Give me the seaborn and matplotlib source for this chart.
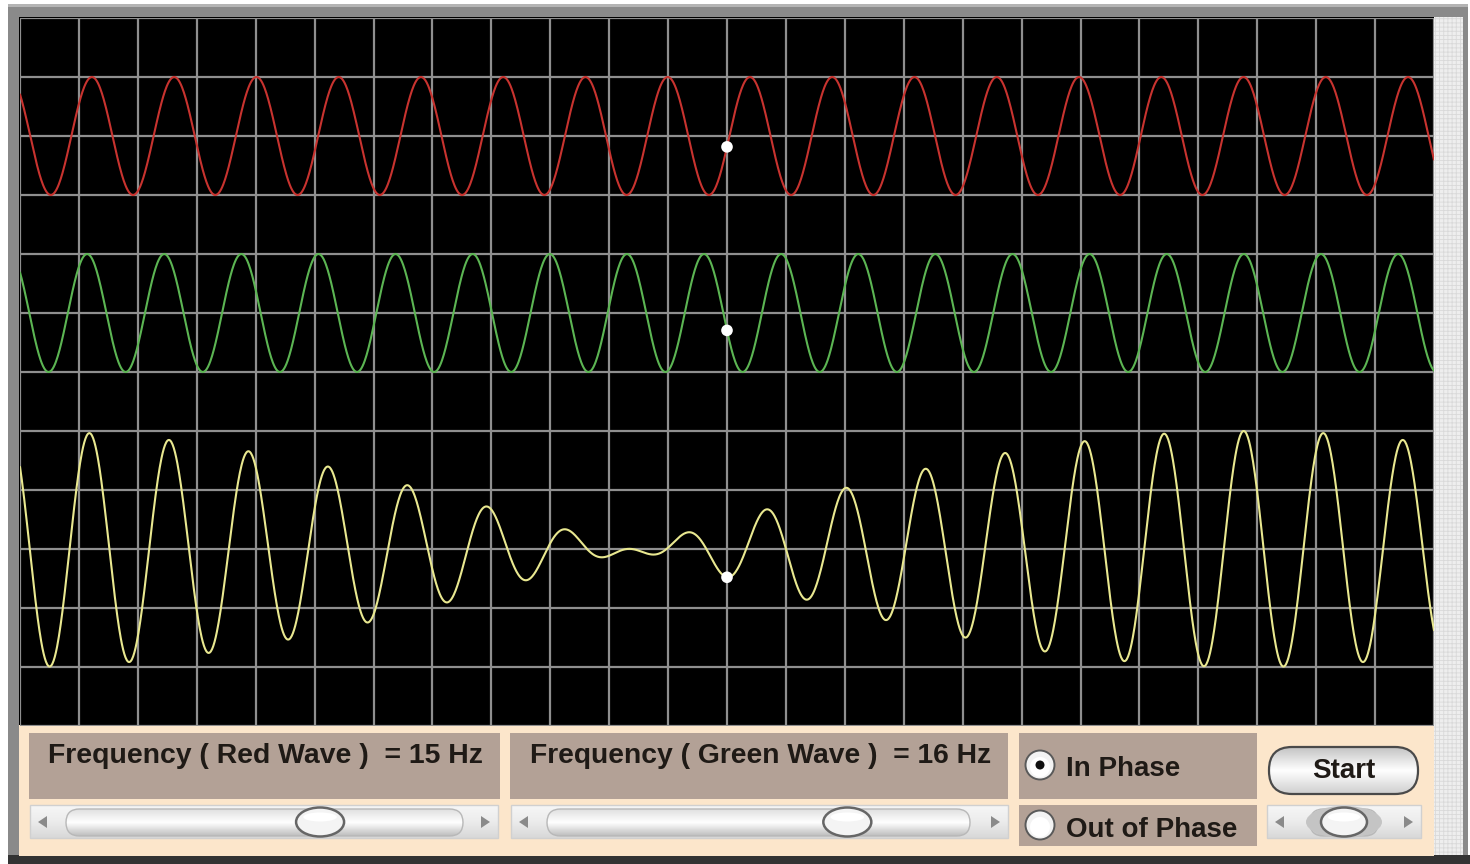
import numpy as np
import pandas as pd
import matplotlib
matplotlib.use("Agg")
import matplotlib.pyplot as plt
import seaborn as sns
from matplotlib.patches import Rectangle, FancyBboxPatch, Ellipse, Circle, Polygon
from matplotlib.colors import LinearSegmentedColormap

# ---------------- values ----------------
red_freq_hz = 15
green_freq_hz = 16
window_s = 1.146                 # time shown across the grid
red_first_crest_s = 0.0583       # first crest of red wave
green_first_crest_s = 0.0544     # first crest of green wave
red_center = 10                  # grid row of each trace's axis (from bottom)
green_center = 7
sum_center = 3
amplitude = 1.0
marker_time_s = 0.573            # white dot position
grid_cols = 24
grid_rows = 12
freq_labels = ["Frequency ( Red Wave )  = 15 Hz", "Frequency ( Green Wave )  = 16 Hz"]
radio_labels = ["In Phase", "Out of Phase"]
radio_selected = [True, False]
button_label = "Start"
slider_fracs = [0.64, 0.71, 0.5]

RED = "#c8332f"
GREEN = "#5cb553"
YELLOW = "#e9e890"

# ---------------- data frame ----------------
t = np.linspace(0, window_s, 2400)
x = t / window_s * grid_cols
red = red_center + amplitude * np.cos(2 * np.pi * red_freq_hz * (t - red_first_crest_s))
green = green_center + amplitude * np.cos(2 * np.pi * green_freq_hz * (t - green_first_crest_s))
total = sum_center + (red - red_center) + (green - green_center)
df = pd.DataFrame({"x": x, "red": red, "green": green, "sum": total})

tm = marker_time_s
mx = tm / window_s * grid_cols
mr = red_center + amplitude * np.cos(2 * np.pi * red_freq_hz * (tm - red_first_crest_s))
mg = green_center + amplitude * np.cos(2 * np.pi * green_freq_hz * (tm - green_first_crest_s))
ms = sum_center + (mr - red_center) + (mg - green_center)
dots = pd.DataFrame({"x": [mx, mx, mx], "y": [mr, mg, ms]})

sns.set_theme(style="dark")
plt.rcParams["font.family"] = ["Liberation Sans", "DejaVu Sans"]
plt.rcParams["hatch.linewidth"] = 0.6

W, H = 1470, 864
fig = plt.figure(figsize=(W / 100, H / 100), dpi=100, facecolor="white")

# ---------------- chrome (pixel coordinates) ----------------
bg = fig.add_axes([0, 0, 1, 1])
bg.set_zorder(0)
bg.axis("off")


def grad(ax, patch, c_top, c_mid, c_bot, x0, y0, w, h, z):
    cmap = LinearSegmentedColormap.from_list("g", [c_top, c_mid, c_bot])
    arr = np.linspace(0, 1, 64).reshape(-1, 1)
    im = ax.imshow(arr, cmap=cmap, extent=(x0, x0 + w, y0 + h, y0), origin="upper",
                   aspect="auto", zorder=z, interpolation="bilinear")
    ax.add_patch(patch)
    im.set_clip_path(patch)


bg.add_patch(Rectangle((8, 4), 1460, 853, fc="#8a8a8a", ec="none", zorder=1))
bg.add_patch(Rectangle((8, 4), 1460, 3, fc="#b4b4b4", ec="none", zorder=1.1))
bg.add_patch(Rectangle((8, 855), 1462, 9, fc="#333333", ec="none", zorder=1.2))
bg.add_patch(Rectangle((1434, 17), 29, 838, fc="#eeeeee", ec="#d9d9d9", lw=0,
                       hatch="++++", zorder=2))
bg.add_patch(Rectangle((19, 17), 1415, 709, fc="black", ec="none", zorder=2))
bg.add_patch(Rectangle((19, 725), 1415, 131, fc="#fce6cb", ec="none", zorder=2))

BOX = "#b3a196"
TXT = "#1f1a16"
bg.add_patch(Rectangle((29, 733), 471, 66, fc=BOX, ec="none", zorder=3))
bg.add_patch(Rectangle((510, 733), 498, 66, fc=BOX, ec="none", zorder=3))
bg.add_patch(Rectangle((1019, 733), 238, 66, fc=BOX, ec="none", zorder=3))
bg.add_patch(Rectangle((1019, 805), 238, 41, fc=BOX, ec="none", zorder=3))

bg.text(48, 763, freq_labels[0], fontsize=20.4, fontweight="bold", color=TXT,
        ha="left", va="baseline", zorder=5)
bg.text(530, 763, freq_labels[1], fontsize=20.3, fontweight="bold", color=TXT,
        ha="left", va="baseline", zorder=5)

# radio buttons
for (ry, lab, sel, base) in [(765, radio_labels[0], radio_selected[0], 776),
                             (825, radio_labels[1], radio_selected[1], 837)]:
    bg.add_patch(Circle((1040, ry), 14.5, fc="#f3f3f3", ec="#5a5a5a", lw=1.4, zorder=5))
    bg.add_patch(Circle((1040, ry + 2), 10, fc="white", ec="none", zorder=5.1))
    if sel:
        bg.add_patch(Circle((1040, ry), 4.5, fc="#111111", ec="none", zorder=5.2))
    bg.text(1066, base, lab, fontsize=20, fontweight="bold", color=TXT,
            ha="left", va="baseline", zorder=5)

# start button
btn = FancyBboxPatch((1269, 747), 149, 47, boxstyle="round,pad=0,rounding_size=23",
                     fc="none", ec="#4a4a4a", lw=1.6, zorder=6)
grad(bg, FancyBboxPatch((1269, 747), 149, 47, boxstyle="round,pad=0,rounding_size=23",
                        fc="none", ec="none", zorder=5),
     "#c4c4c4", "#ffffff", "#cfcfcf", 1269, 747, 149, 47, 5)
bg.add_patch(btn)
bg.text(1344, 778, button_label, fontsize=20, fontweight="bold", color=TXT,
        ha="center", va="baseline", zorder=7)


def slider(x0, x1, track0, track1, frac, thumb_w, halo=False):
    y0, h = 805, 33
    grad(bg, Rectangle((x0, y0), x1 - x0, h, fc="none", ec="none", zorder=4),
         "#f6f6f6", "#ececec", "#d8d8d8", x0, y0, x1 - x0, h, 4)
    bg.add_patch(Rectangle((x0, y0), x1 - x0, h, fc="none", ec="#d0d0d0", lw=1, zorder=4.5))
    tr = FancyBboxPatch((track0, 809), track1 - track0, 27,
                        boxstyle="round,pad=0,rounding_size=13.5", fc="none", ec="none", zorder=4.6)
    grad(bg, tr, "#e0e0e0", "#ffffff", "#bdbdbd", track0, 809, track1 - track0, 27, 4.6)
    bg.add_patch(FancyBboxPatch((track0, 809), track1 - track0, 27,
                                boxstyle="round,pad=0,rounding_size=13.5",
                                fc="none", ec="#b8b8b8", lw=1.0, zorder=4.7))
    tx = track0 + frac * (track1 - track0)
    if halo:
        bg.add_patch(Ellipse((tx, 822), thumb_w + 30, 32, fc="#c4c4c4", ec="none", zorder=4.8))
    bg.add_patch(Ellipse((tx, 822), thumb_w, 29, fc="#f4f4f4", ec="#666666", lw=1.8, zorder=5))
    bg.add_patch(Ellipse((tx, 817), thumb_w * 0.7, 9, fc="white", ec="none", zorder=5.1))
    # arrows
    bg.add_patch(Polygon([[x0 + 8, 822], [x0 + 17, 816], [x0 + 17, 828]], closed=True,
                         fc="#8a8a8a", ec="none", zorder=5))
    bg.add_patch(Polygon([[x1 - 8, 822], [x1 - 17, 816], [x1 - 17, 828]], closed=True,
                         fc="#8a8a8a", ec="none", zorder=5))


slider(30, 498, 66, 463, slider_fracs[0], 48)
slider(511, 1008, 547, 970, slider_fracs[1], 48)
slider(1267, 1421, 1310, 1378, slider_fracs[2], 46, halo=True)

bg.set_xlim(0, W)
bg.set_ylim(H, 0)

# ---------------- main oscilloscope axes ----------------
ax = fig.add_axes([20 / W, 138 / H, 1414 / W, 708 / H])
ax.set_zorder(2)
ax.set_facecolor("black")
sns.lineplot(data=df, x="x", y="red", ax=ax, color=RED, linewidth=1.5, sort=False, estimator=None)
sns.lineplot(data=df, x="x", y="green", ax=ax, color=GREEN, linewidth=1.5, sort=False, estimator=None)
sns.lineplot(data=df, x="x", y="sum", ax=ax, color=YELLOW, linewidth=1.5, sort=False, estimator=None)
sns.scatterplot(data=dots, x="x", y="y", ax=ax, color="white", s=70, edgecolor="none", zorder=5)

ax.set_xlim(0, grid_cols)
ax.set_ylim(0, grid_rows)
ax.set_xticks(np.arange(0, grid_cols + 1))
ax.set_yticks(np.arange(0, grid_rows + 1))
ax.grid(True, color="#8f8f8f", linewidth=1.6)
ax.set_axisbelow(True)
ax.tick_params(length=0, labelbottom=False, labelleft=False)
ax.set_xlabel("")
ax.set_ylabel("")
for s in ax.spines.values():
    s.set_visible(False)

fig.savefig("out.png", dpi=100, facecolor="white")
